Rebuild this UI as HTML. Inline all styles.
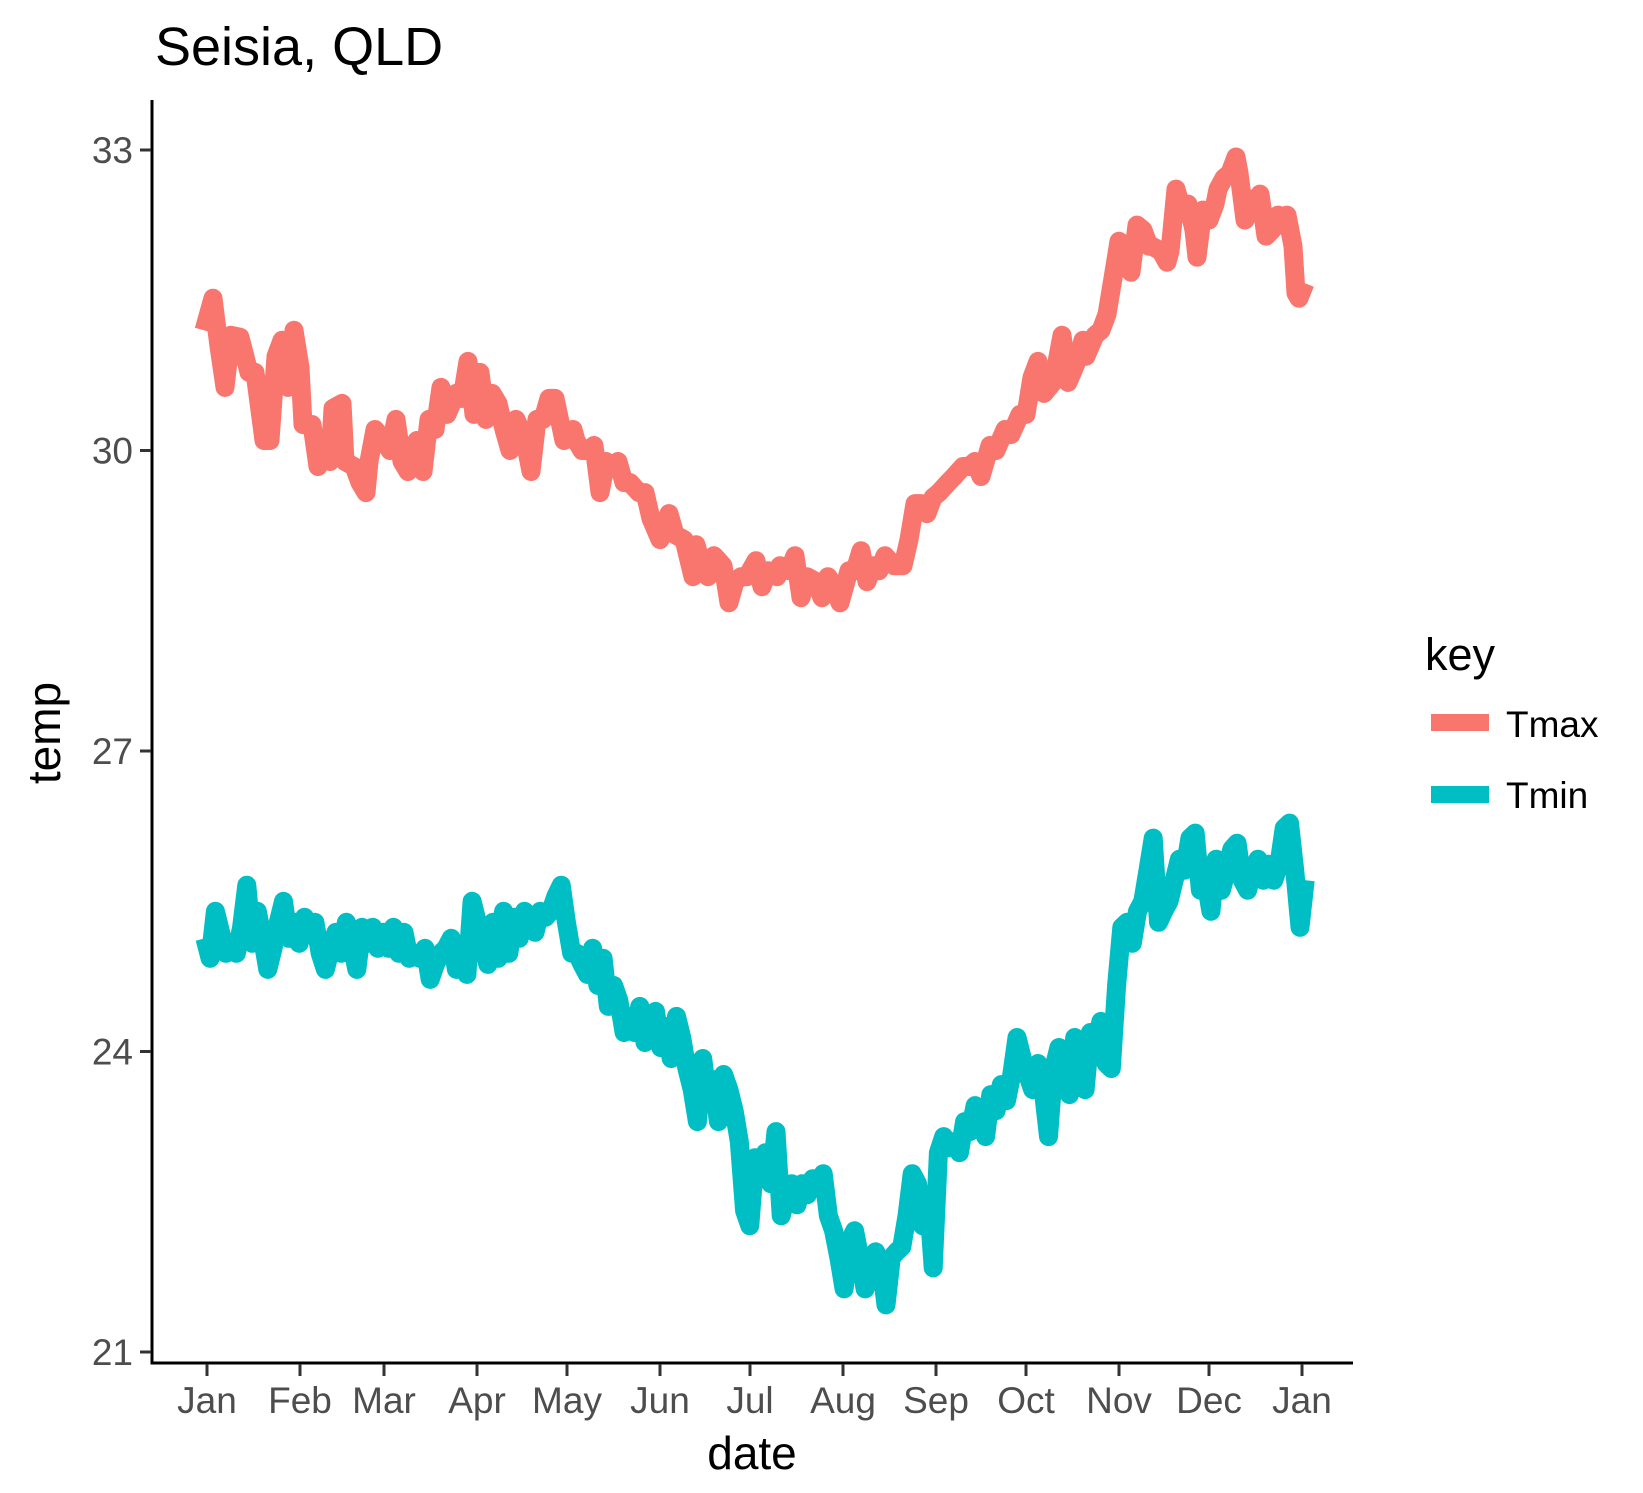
<!DOCTYPE html>
<html><head><meta charset="utf-8"><style>
html,body{margin:0;padding:0;background:#fff;}
svg{display:block;font-family:"Liberation Sans",Arial,sans-serif;}
</style></head><body>
<svg id="chart" width="1643" height="1493" viewBox="0 0 1643 1493" xmlns="http://www.w3.org/2000/svg">
<rect width="1643" height="1493" fill="#fff"/>
<text x="155" y="65" font-size="54" fill="#000">Seisia, QLD</text>
<g id="plot"></g>
<g id="axes"></g>
<text x="752" y="1469" font-size="46" text-anchor="middle" fill="#000">date</text>
<text transform="translate(60,733) rotate(-90)" font-size="46" text-anchor="middle" fill="#000">temp</text>
<g>
<text x="1425" y="670" font-size="45" fill="#000">key</text>
<g>
<rect x="1431" y="714" width="58" height="17" fill="#F8766D"/>
<text x="1506" y="737" font-size="37" fill="#000">Tmax</text>
</g>
<g>
<rect x="1431" y="786" width="58" height="17" fill="#00BFC4"/>
<text x="1506" y="808" font-size="37" fill="#000">Tmin</text>
</g>
</g>
</svg>
<script>
const monthLabels = ["Jan","Feb","Mar","Apr","May","Jun","Jul","Aug","Sep","Oct","Nov","Dec","Jan"];
const monthDays = [0,31,59,90,120,151,181,212,243,273,304,334,365];
const yTicks = [21,24,27,30,33];
const tmaxDays = [-1,2,4,6,8,11,14,16,19,21,23,25,27,29,31,32,35,37,39,41,42,45,46,49,51,53,54,56,59,61,63,65,67,70,72,74,76,78,80,83,85,87,89,91,93,95,97,99,101,103,106,108,110,112,114,116,119,122,123,125,127,129,131,133,135,137,139,141,144,146,148,151,154,156,159,162,163,165,167,169,172,174,176,178,180,183,185,187,190,191,194,196,198,200,203,205,207,209,211,214,216,218,220,222,224,226,229,232,234,236,238,240,242,244,247,249,252,254,256,258,261,263,266,268,271,273,275,277,279,282,283,285,287,290,292,293,296,298,300,302,304,306,308,310,312,314,315,318,320,321,323,325,327,329,330,332,334,336,337,339,341,343,344,346,348,350,351,353,355,357,358,360,362,363,364,366];
const tmaxValues = [31.20,31.52,31.04,30.63,31.15,31.13,30.78,30.78,30.10,30.10,30.94,31.10,30.63,31.20,30.83,30.26,30.26,29.84,30.10,29.89,30.42,30.47,29.89,29.84,29.68,29.58,29.89,30.21,30.10,30.00,30.31,29.89,29.79,30.10,29.79,30.31,30.21,30.63,30.36,30.57,30.52,30.89,30.36,30.78,30.31,30.57,30.47,30.21,30.00,30.31,30.10,29.79,30.31,30.31,30.52,30.52,30.10,30.21,30.10,30.00,30.00,30.05,29.58,29.89,29.84,29.89,29.68,29.68,29.58,29.58,29.32,29.11,29.37,29.16,29.11,28.74,29.06,28.85,28.74,28.95,28.85,28.48,28.69,28.74,28.74,28.90,28.64,28.80,28.74,28.85,28.80,28.95,28.53,28.74,28.69,28.53,28.74,28.64,28.48,28.80,28.80,29.00,28.69,28.85,28.80,28.95,28.85,28.85,29.11,29.47,29.47,29.37,29.53,29.58,29.68,29.74,29.84,29.84,29.89,29.74,30.05,30.00,30.21,30.16,30.36,30.36,30.73,30.89,30.57,30.68,30.83,31.15,30.68,30.89,31.10,30.94,31.15,31.20,31.36,31.72,32.09,32.04,31.78,32.25,32.20,32.04,32.04,31.99,31.88,31.99,32.61,32.40,32.46,32.20,31.93,32.40,32.30,32.46,32.61,32.72,32.77,32.93,32.77,32.30,32.51,32.46,32.56,32.14,32.20,32.35,32.25,32.35,32.04,31.57,31.52,31.67];
const tminStartDay = -0.7;
const tminStepDays = 1.7465;
const tminValues = [25.13,24.93,25.40,25.19,24.98,25.08,24.98,25.24,25.66,25.08,25.40,25.13,24.82,25.03,25.29,25.50,25.13,25.29,25.08,25.34,25.19,25.29,24.98,24.82,25.03,25.19,24.98,25.29,25.08,24.82,25.24,25.08,25.24,25.03,25.19,25.03,25.24,24.98,25.19,24.93,24.98,24.93,25.03,24.72,24.87,24.98,25.03,25.13,24.82,24.98,24.77,25.50,25.29,25.08,24.87,25.29,24.93,25.40,24.98,25.34,25.13,25.40,25.29,25.19,25.40,25.34,25.40,25.55,25.66,25.29,24.98,24.98,24.87,24.77,25.03,24.66,24.93,24.45,24.66,24.51,24.19,24.35,24.19,24.45,24.09,24.30,24.40,24.04,24.25,23.93,24.35,24.14,23.83,23.62,23.30,23.93,23.51,23.72,23.30,23.77,23.62,23.41,23.10,22.41,22.26,22.94,22.73,22.99,22.68,23.20,22.36,22.57,22.68,22.47,22.68,22.57,22.73,22.68,22.78,22.36,22.21,21.94,21.63,22.10,22.21,21.94,21.63,21.94,22.00,21.89,21.47,21.94,22.00,22.05,22.36,22.78,22.68,22.26,22.57,21.84,22.99,23.15,23.04,23.10,22.99,23.30,23.20,23.46,23.41,23.15,23.57,23.41,23.67,23.51,23.77,24.14,23.93,23.77,23.62,23.88,23.62,23.15,23.83,24.04,23.77,23.57,24.14,23.93,23.62,24.19,24.04,24.30,23.88,23.83,24.66,25.24,25.29,25.08,25.40,25.50,25.81,26.13,25.29,25.40,25.50,25.71,25.92,25.81,26.13,26.18,25.61,25.71,25.40,25.92,25.61,25.81,26.02,26.08,25.71,25.61,25.81,25.92,25.71,25.87,25.71,25.87,26.23,26.28,25.81,25.24,25.71];

const NS = "http://www.w3.org/2000/svg";
const xScale = d => 207 + d * (1095 / 365);
const yScale = t => 150 + (33 - t) * (1202 / 12);
const plot = document.getElementById('plot');
const axes = document.getElementById('axes');

function mk(tag, attrs, parent) {
  const e = document.createElementNS(NS, tag);
  for (const k in attrs) e.setAttribute(k, attrs[k]);
  parent.appendChild(e);
  return e;
}

function drawLine(days, vals, color, name) {
  let d = '';
  for (let i = 0; i < vals.length; i++) {
    d += (i ? 'L' : 'M') + xScale(days[i]).toFixed(1) + ',' + yScale(vals[i]).toFixed(1);
  }
  const p = mk('path', {d: d, fill: 'none', stroke: color, 'stroke-width': 19, 'stroke-linejoin': 'round', 'stroke-linecap': 'butt'}, plot);
  
  
}

drawLine(tmaxDays, tmaxValues, '#F8766D', 'tmax-line');
const tminDays = tminValues.map((_, i) => tminStartDay + i * tminStepDays);
drawLine(tminDays, tminValues, '#00BFC4', 'tmin-line');

const yAxis = mk('line', {x1: 152, y1: 100, x2: 152, y2: 1364.5, stroke: '#000', 'stroke-width': 3}, axes);


const xAxis = mk('line', {x1: 150.5, y1: 1363, x2: 1353, y2: 1363, stroke: '#000', 'stroke-width': 3}, axes);



yTicks.forEach(v => {
  const y = yScale(v);
  const t = mk('line', {x1: 140, y1: y, x2: 151, y2: y, stroke: '#333', 'stroke-width': 3}, axes);
  
  
  const l = mk('text', {x: 133, y: y + 13, 'font-size': 37, 'text-anchor': 'end', fill: '#4d4d4d'}, axes);
  
  
  l.textContent = v;
});

monthDays.forEach((d, i) => {
  const x = xScale(d);
  const t = mk('line', {x1: x, y1: 1364, x2: x, y2: 1376, stroke: '#333', 'stroke-width': 3}, axes);
  
  
  const l = mk('text', {x: x, y: 1413, 'font-size': 37, 'text-anchor': 'middle', fill: '#4d4d4d'}, axes);
  
  
  l.textContent = monthLabels[i];
});
</script>
</body></html>
